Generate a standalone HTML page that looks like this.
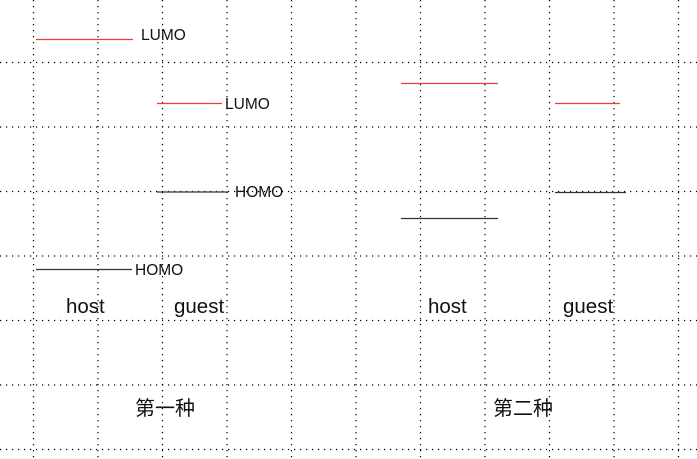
<!DOCTYPE html>
<html><head><meta charset="utf-8"><style>
body{margin:0;background:#fff}
svg{display:block}
text{font-family:"Liberation Sans","Noto Sans CJK SC",sans-serif;fill:#111}
</style></head><body>
<svg width="697" height="459" viewBox="0 0 697 459" xmlns="http://www.w3.org/2000/svg">
<g stroke="#000" stroke-width="1.2" stroke-dasharray="1.2 4.8">
<line x1="33.5" y1="0" x2="33.5" y2="459"/>
<line x1="98" y1="0" x2="98" y2="459"/>
<line x1="162.5" y1="0" x2="162.5" y2="459"/>
<line x1="227" y1="0" x2="227" y2="459"/>
<line x1="291.5" y1="0" x2="291.5" y2="459"/>
<line x1="356" y1="0" x2="356" y2="459"/>
<line x1="420.5" y1="0" x2="420.5" y2="459"/>
<line x1="485" y1="0" x2="485" y2="459"/>
<line x1="549.5" y1="0" x2="549.5" y2="459"/>
<line x1="614" y1="0" x2="614" y2="459"/>
<line x1="678.5" y1="0" x2="678.5" y2="459"/>
<line x1="0" y1="62.5" x2="697" y2="62.5"/>
<line x1="0" y1="127" x2="697" y2="127"/>
<line x1="0" y1="191.5" x2="697" y2="191.5"/>
<line x1="0" y1="256" x2="697" y2="256"/>
<line x1="0" y1="320.5" x2="697" y2="320.5"/>
<line x1="0" y1="385" x2="697" y2="385"/>
<line x1="0" y1="449.5" x2="697" y2="449.5"/>
</g>
<g stroke-width="1.3">
<line x1="36" y1="39.5" x2="133" y2="39.5" stroke="#f03a3a"/>
<line x1="157" y1="103.5" x2="222" y2="103.5" stroke="#f03a3a"/>
<line x1="157" y1="192" x2="228" y2="192" stroke="#333"/>
<line x1="36" y1="269.5" x2="132" y2="269.5" stroke="#333"/>
<line x1="401" y1="83.5" x2="498" y2="83.5" stroke="#f03a3a"/>
<line x1="555" y1="103.5" x2="620" y2="103.5" stroke="#f03a3a"/>
<line x1="555" y1="192.5" x2="626" y2="192.5" stroke="#333"/>
<line x1="401" y1="218.5" x2="498" y2="218.5" stroke="#333"/>
</g>
<text x="141" y="40" font-size="15.5">LUMO</text>
<text x="225" y="109" font-size="15.5">LUMO</text>
<text x="235" y="197" font-size="15.5">HOMO</text>
<text x="135" y="275" font-size="15.5">HOMO</text>
<text x="66" y="313" font-size="20.5">host</text>
<text x="174" y="313" font-size="20.5">guest</text>
<text x="428" y="313" font-size="20.5">host</text>
<text x="563" y="313" font-size="20.5">guest</text>
<text x="135" y="415" font-size="20">第一种</text>
<text x="493" y="415" font-size="20">第二种</text>
</svg>
</body></html>
